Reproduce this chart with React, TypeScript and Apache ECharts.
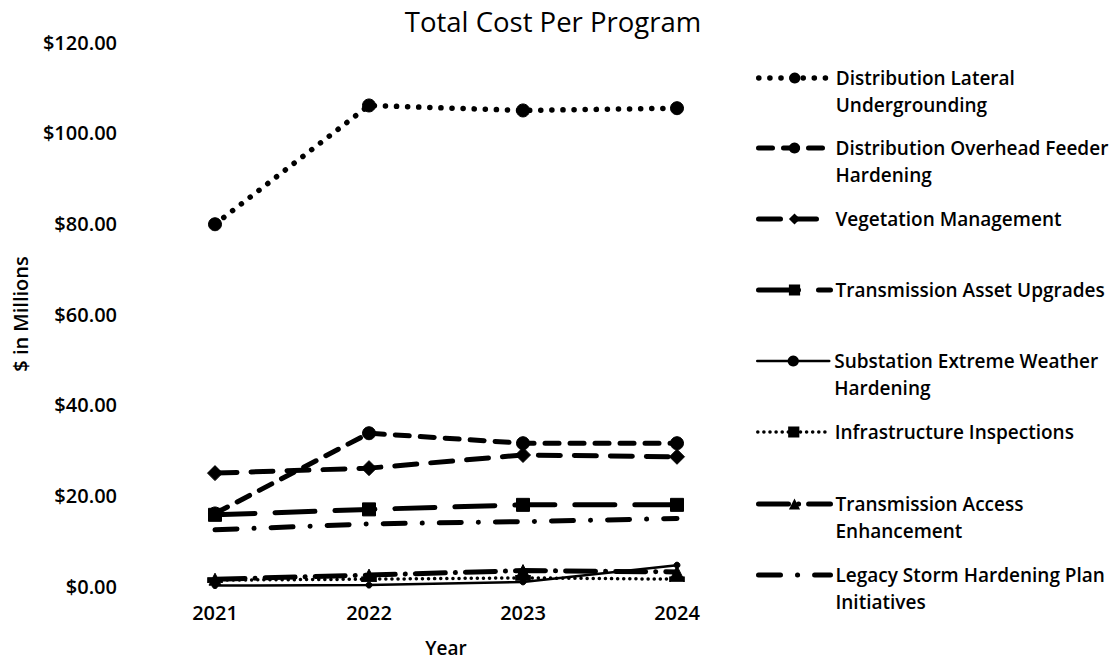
import React, { useEffect, useRef } from "react";
import * as echarts from "echarts";

const years = ["2021", "2022", "2023", "2024"];
const lateral = [79.8, 106.0, 104.9, 105.4];
const feeder = [16.0, 33.7, 31.5, 31.5];
const vegetation = [24.9, 26.0, 28.9, 28.5];
const transAsset = [15.7, 16.9, 17.9, 17.9];
const substation = [0.1, 0.2, 0.9, 4.6];
const inspections = [1.3, 1.5, 1.8, 1.5];
const transAccess = [1.5, 2.4, 3.4, 3.1];
const legacy = [12.4, 13.7, 14.2, 14.9];

const seriesNames = [
  "Distribution Lateral Undergrounding",
  "Distribution Overhead Feeder Hardening",
  "Vegetation Management",
  "Transmission Asset Upgrades",
  "Substation Extreme Weather Hardening",
  "Infrastructure Inspections",
  "Transmission Access Enhancement",
  "Legacy Storm Hardening Plan Initiatives",
];
const legendLines: string[][] = [
  ["Distribution Lateral", "Undergrounding"],
  ["Distribution Overhead Feeder", "Hardening"],
  ["Vegetation Management"],
  ["Transmission Asset Upgrades"],
  ["Substation Extreme Weather", "Hardening"],
  ["Infrastructure Inspections"],
  ["Transmission Access", "Enhancement"],
  ["Legacy Storm Hardening Plan", "Initiatives"],
];

const FONT = "Open Sans";
const WEIGHT = 600;

export default function App() {
  const ref = useRef<HTMLDivElement>(null);
  useEffect(() => {
    if (!ref.current) return;
    const chart = echarts.init(ref.current, undefined, { renderer: "svg" });
    const black = "#000";
    const widths: number[] = [];
    const mk = (
      name: string,
      data: number[],
      type: any,
      width: number,
      symbol: string,
      symbolSize: any
    ) => {
      widths.push(width);
      return {
        name,
        type: "line",
        data,
        symbol,
        symbolSize,
        showSymbol: symbol !== "none",
        lineStyle: { color: black, width, type, cap: "round" },
        itemStyle: { color: black, borderColor: black },
        emphasis: { disabled: true },
        z: 2,
      };
    };
    const series = [
      mk(seriesNames[0], lateral, [0.1, 11], 5.5, "circle", 13),
      mk(seriesNames[1], feeder, [14, 11], 5, "circle", 13),
      mk(seriesNames[2], vegetation, [22, 14], 5, "diamond", 15),
      mk(seriesNames[3], transAsset, [40, 20], 5, "rect", 13),
      mk(seriesNames[4], substation, "solid", 2.5, "circle", 6),
      mk(seriesNames[5], inspections, [0.1, 6], 3.5, "rect", [14, 5]),
      mk(seriesNames[6], transAccess, [30, 10, 0.1, 10], 5, "triangle", 12),
      mk(seriesNames[7], legacy, [22, 17, 0.1, 17], 5, "none", 0),
    ];
    const firstLineY = [78, 148, 219, 290, 361, 432, 504, 575];
    const LH = 27;
    const legends = seriesNames.map((n, i) => {
      const lines = legendLines[i];
      const multi = lines.length > 1;
      const leg: any = {
        left: 756,
        top: multi ? firstLineY[i] - (LH * 1.5 - 7) - 7 : firstLineY[i] - (LH / 2),
        padding: 0,
        itemWidth: 72,
        itemHeight: 14,
        itemGap: 0,
        selectedMode: false,
        data: [n],
        lineStyle: { width: widths[i] },
        formatter: () => (multi ? "\n" + lines.join("\n") : lines[0]),
        textStyle: {
          fontFamily: FONT,
          fontWeight: WEIGHT,
          fontSize: 19,
          color: black,
          lineHeight: LH,
        },
      };
      if (i === 7) leg.itemStyle = { opacity: 0 };
      return leg;
    });
    chart.setOption({
      animation: false,
      backgroundColor: "#fff",
      title: {
        text: "Total Cost Per Program",
        left: 548,
        textAlign: "center",
        top: 2,
        textStyle: { fontFamily: FONT, fontSize: 27.5, fontWeight: "normal", color: black },
      },
      legend: legends,
      grid: { left: 138, right: 362, top: 42, bottom: 77, containLabel: false },
      xAxis: {
        type: "category",
        data: years,
        boundaryGap: true,
        axisLine: { show: false },
        axisTick: { show: false },
        axisLabel: { fontFamily: FONT, fontWeight: WEIGHT, fontSize: 20, color: black, margin: 16 },
        name: "Year",
        nameLocation: "middle",
        nameGap: 52,
        nameTextStyle: { fontFamily: FONT, fontWeight: WEIGHT, fontSize: 19, color: black },
      },
      yAxis: {
        type: "value",
        min: 0,
        max: 120,
        interval: 20,
        splitLine: { show: false },
        axisLine: { show: false },
        axisTick: { show: false },
        axisLabel: {
          fontFamily: FONT,
          fontWeight: WEIGHT,
          fontSize: 20,
          color: black,
          margin: 21,
          formatter: (v: number) => "$" + v.toFixed(2),
        },
        name: "$ in Millions",
        nameLocation: "middle",
        nameGap: 108,
        nameRotate: 90,
        nameTextStyle: { fontFamily: FONT, fontWeight: WEIGHT, fontSize: 20, color: black },
      },
      series,
    });
    return () => chart.dispose();
  }, []);
  return (
    <div
      ref={ref}
      style={{ position: "fixed", left: 0, top: 0, width: 1116, height: 663 }}
    />
  );
}
